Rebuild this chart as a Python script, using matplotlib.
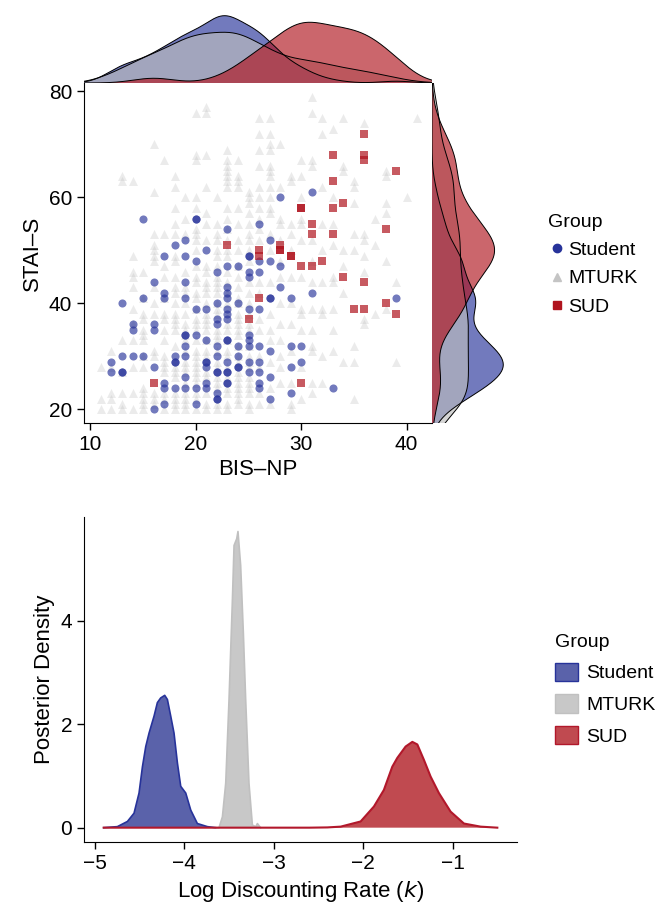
import numpy as np
import matplotlib
matplotlib.use('Agg')
import matplotlib.pyplot as plt
from matplotlib.lines import Line2D
from matplotlib.patches import Patch

plt.rcParams['font.family'] = ['Liberation Sans', 'DejaVu Sans']

# scatter data: (BIS-NP, STAI-S)
student_pts = [(15,56),(20,56),(20,56),(23,54),(26,55),(18,51),(19,52),(21,50),(17,49),(19,49),(25,49),(25,49),(28,60),
               (31,61),(27,52),(20,48),(22,46),(23,47),(24,47),(25,46),(25,45),(16,44),(19,44),(15,41),(17,42),(17,41),
               (19,41),(13,40),(20,39),(21,39),(22,40),(23,43),(23,42),(23,41),(24,40),(25,39),(23,39),(23,38),(23,37),
               (22,37),(22,36),(14,36),(14,35),(16,36),(16,35),(19,34),(19,34),(20,34),(21,33),(19,32),(22,32),(23,33),
               (23,33),(25,34),(25,33),(25,32),(24,32),(12,29),(12,27),(13,30),(13,27),(13,27),(14,30),(15,30),(16,28),
               (18,30),(18,29),(18,29),(19,30),(21,29),(21,29),(21,28),(22,30),(22,27),(22,27),(23,29),(23,27),(23,27),
               (23,25),(23,25),(24,30),(24,28),(24,28),(25,29),(25,27),(17,25),(17,24),(18,24),(19,26),(19,24),(20,24),
               (21,25),(21,24),(22,23),(22,22),(22,22),(17,21),(20,21),(16,20),(26,25),(26,24),(26,29),(26,48),(27,48),
               (28,47),(26,46),(28,43),(31,42),(27,41),(27,41),(29,41),(26,39),(39,41),(26,32),(27,31),(29,32),(30,32),
               (30,29),(29,28),(26,27),(27,26),(27,22),(29,23),(33,24)]

sud_pts = [(23,51),(26,50),(26,49),(36,72),(33,68),(36,68),(36,67),(39,65),(33,63),(34,59),(30,58),(30,58),(33,58),
           (31,55),(31,53),(33,53),(38,54),(28,51),(28,50),(28,50),(29,49),(29,49),(30,47),(31,47),(32,48),(34,45),
           (36,44),(38,40),(39,38),(35,39),(36,39),(26,41),(30,25),(16,25),(25,37)]

mturk_pts = [(11,28),(11,20),(11,22),
             (12,31),(12,23),(12,22),(12,20),(12,28),
             (13,64),(13,63),(13,23),(13,21),(13,20),(13,27),(13,33),
             (14,63),(14,49),(14,46),(14,45),(14,43),(14,39),(14,33),(14,28),(14,23),(14,20),(14,36),
             (15,46),(15,38),(15,37),(15,35),(15,34),(15,33),(15,28),(15,24),(15,23),(15,22),(15,21),(15,20),(15,41),(15,30),
             (16,70),(16,61),(16,53),(16,51),(16,50),(16,49),(16,48),(16,43),(16,31),(16,30),(16,23),(16,22),(16,21),(16,40),(16,38),
             (17,67),(17,53),(17,45),(17,38),(17,37),(17,35),(17,30),(17,29),(17,28),(17,27),(17,23),(17,22),(17,20),(17,33),(17,41),(17,47),
             (18,64),(18,62),(18,55),(18,53),(18,49),(18,48),(18,43),(18,42),(18,40),(18,38),(18,37),(18,36),(18,35),(18,28),
             (18,27),(18,26),(18,23),(18,22),(18,21),(18,20),(18,32),(18,45),(18,58),
             (19,60),(19,43),(19,38),(19,36),(19,35),(19,28),(19,27),(19,23),(19,22),(19,21),(19,20),(19,31),(19,33),(19,40),
             (19,46),(19,53),(19,56),(19,25),(19,29),(19,34),(19,42),
             (20,76),(20,68),(20,67),(20,60),(20,58),(20,54),(20,53),(20,52),(20,50),(20,42),(20,41),(20,37),(20,36),(20,30),
             (20,29),(20,28),(20,27),(20,26),(20,23),(20,22),(20,20),(20,45),(20,47),(20,33),(20,25),(20,31),(20,35),(20,39),(20,44),
             (21,77),(21,76),(21,68),(21,62),(21,57),(21,44),(21,43),(21,37),(21,36),(21,35),(21,27),(21,23),(21,21),(21,20),
             (21,31),(21,30),(21,47),(21,52),(21,55),(21,40),(21,26),(21,33),(21,38),(21,42),(21,46),
             (22,55),(22,53),(22,52),(22,50),(22,43),(22,42),(22,26),(22,25),(22,60),(22,38),(22,35),(22,33),(22,29),(22,21),
             (22,20),(22,47),(22,44),(22,24),(22,28),(22,31),(22,34),(22,40),(22,45),(22,49),(22,39),
             (23,69),(23,67),(23,66),(23,65),(23,64),(23,63),(23,62),(23,56),(23,52),(23,50),(23,49),(23,30),(23,28),(23,24),
             (23,23),(23,20),(23,44),(23,46),(23,35),(23,33),(23,58),(23,21),(23,26),(23,31),(23,36),(23,40),(23,42),(23,54),
             (24,67),(24,64),(24,63),(24,62),(24,55),(24,38),(24,37),(24,36),(24,35),(24,34),(24,27),(24,26),(24,25),(24,24),
             (24,23),(24,21),(24,43),(24,45),(24,50),(24,52),(24,58),(24,30),(24,22),(24,29),(24,32),(24,40),(24,47),(24,41),
             (25,61),(25,60),(25,59),(25,57),(25,55),(25,53),(25,52),(25,50),(25,36),(25,35),(25,26),(25,25),(25,23),(25,20),
             (25,48),(25,42),(25,40),(25,30),(25,29),(25,44),(25,21),(25,24),(25,28),(25,32),(25,38),
             (26,75),(26,72),(26,69),(26,66),(26,62),(26,60),(26,58),(26,44),(26,42),(26,37),(26,35),(26,30),(26,28),(26,23),
             (26,21),(26,52),(26,54),(26,56),
             (27,75),(27,72),(27,70),(27,69),(27,66),(27,65),(27,64),(27,62),(27,60),(27,58),(27,57),(27,21),(27,44),(27,38),
             (27,35),(27,33),(27,29),(27,24),(27,50),(27,53),
             (28,70),(28,62),(28,56),(28,25),(28,45),(28,40),(28,36),(28,33),(28,30),(28,28),(28,55),(28,48),(28,52),
             (29,64),(29,63),(29,55),(29,25),(29,21),(29,20),(29,45),(29,40),(29,36),(29,50),(29,53),(29,31),
             (30,67),(30,64),(30,60),(30,56),(30,55),(30,39),(30,38),(30,22),(30,45),(30,35),(30,52),(30,28),
             (31,79),(31,76),(31,67),(31,66),(31,52),(31,44),(31,39),(31,32),(31,31),(31,25),(31,23),(31,48),(31,35),
             (32,75),(32,72),(32,62),(32,55),(32,44),(32,39),(32,38),(32,25),(32,50),(32,30),
             (33,73),(33,60),(33,51),(33,45),(33,44),(33,39),(33,31),(33,55),(33,35),
             (34,75),(34,66),(34,65),(34,42),(34,29),(34,50),(34,47),
             (35,63),(35,62),(35,59),(35,53),(35,50),(35,32),(35,29),(35,22),
             (36,74),(36,53),(36,52),(36,49),(36,37),(36,36),(36,46),
             (37,56),(37,51),(37,38),
             (38,65),(38,64),(38,59),(38,57),(38,39),(38,48),
             (39,44),(39,29),(40,60),(41,75)]

groups = ['Student', 'MTURK', 'SUD']
colors = {'Student': '#27339a', 'MTURK': '#bdbdbd', 'SUD': '#b0141e'}

# posterior densities of log k
student_k = [-4.9, -4.747, -4.635, -4.561, -4.505, -4.467, -4.43, -4.393, -4.337, -4.3, -4.263, -4.218, -4.188,
             -4.151, -4.114, -4.076, -4.039, -3.983, -3.927, -3.853, -3.741, -3.65]
student_d = [0, 0.02, 0.12, 0.28, 0.67, 1.18, 1.57, 1.83, 2.16, 2.42, 2.51, 2.56, 2.48, 2.16, 1.83, 1.25, 0.8, 0.67,
             0.34, 0.08, 0.02, 0]
mturk_k = [-3.65, -3.611, -3.573, -3.536, -3.499, -3.461, -3.443, -3.413, -3.399, -3.369, -3.339, -3.313, -3.276,
           -3.238, -3.2, -3.182, -3.16, -3.145]
mturk_d = [0, 0, 0.21, 0.86, 2.48, 4.42, 5.46, 5.59, 5.73, 5.07, 3.77, 2.48, 0.86, 0.05, 0.02, 0.08, 0.03, 0]
sud_k = [-4.9, -2.6, -2.4, -2.251, -2.028, -1.879, -1.768, -1.674, -1.618, -1.525, -1.45, -1.394, -1.32, -1.246,
         -1.153, -1.022, -0.873, -0.687, -0.5]
sud_d = [0, 0, 0.005, 0.02, 0.12, 0.41, 0.73, 1.18, 1.35, 1.57, 1.66, 1.61, 1.31, 0.99, 0.67, 0.31, 0.08, 0.02, 0]


def kde(vals, grid, adjust=0.8):
    vals = np.asarray(vals, float)
    bw = adjust * vals.std(ddof=1) * len(vals) ** (-0.2)
    z = (grid[:, None] - vals[None, :]) / bw
    return np.exp(-0.5 * z ** 2).sum(axis=1) / (len(vals) * bw * np.sqrt(2 * np.pi))


fig = plt.figure(figsize=(6.57, 9.10), dpi=100)
ax = fig.add_axes([0.1279, 0.5352, 0.5296, 0.3736])
ax_top = fig.add_axes([0.1279, 0.9088, 0.5296, 0.0747])
ax_right = fig.add_axes([0.6575, 0.5352, 0.1096, 0.3736])

xlim = (9.4, 42.4)
ylim = (17.4, 81.6)

pts = {'Student': student_pts, 'MTURK': mturk_pts, 'SUD': sud_pts}
ax.scatter(*zip(*mturk_pts), marker='^', s=42, color=colors['MTURK'], alpha=0.3, linewidths=0)
ax.scatter(*zip(*student_pts), marker='o', s=34, color=colors['Student'], alpha=0.65, linewidths=0)
ax.scatter(*zip(*sud_pts), marker='s', s=34, color=colors['SUD'], alpha=0.7, linewidths=0)

ax.set_xlim(*xlim)
ax.set_ylim(*ylim)
ax.set_xticks([10, 20, 30, 40])
ax.set_yticks([20, 40, 60, 80])
ax.set_xlabel('BIS\u2013NP', fontsize=16)
ax.set_ylabel('STAI\u2013S', fontsize=16)
ax.tick_params(labelsize=15, length=5, width=1)
for s in ['top', 'right']:
    ax.spines[s].set_visible(False)

# marginal densities
gx = np.linspace(xlim[0], xlim[1], 500)
gy = np.linspace(ylim[0], ylim[1], 500)
top_max = 0
right_max = 0
for g in groups:
    xs = [p[0] for p in pts[g]]
    ys = [p[1] for p in pts[g]]
    dx = kde(xs, gx)
    dy = kde(ys, gy)
    top_max = max(top_max, dx.max())
    right_max = max(right_max, dy.max())
    ax_top.fill_between(gx, 0, dx, facecolor=colors[g], alpha=0.65, lw=0)
    ax_top.plot(gx, dx, color='black', lw=0.7)
    ax_right.fill_betweenx(gy, 0, dy, facecolor=colors[g], alpha=0.65, lw=0)
    ax_right.plot(dy, gy, color='black', lw=0.7)
ax_top.set_xlim(*xlim)
ax_top.set_ylim(0, top_max * 1.01)
ax_right.set_ylim(*ylim)
ax_right.set_xlim(0, right_max * 1.01)
for a in (ax_top, ax_right):
    a.axis('off')

handles = [Line2D([], [], marker='o', ls='', color=colors['Student'], markersize=6),
           Line2D([], [], marker='^', ls='', color='#c4c4c4', markersize=6),
           Line2D([], [], marker='s', ls='', color=colors['SUD'], markersize=6)]
leg = fig.legend(handles, groups, title='Group', loc='center left', bbox_to_anchor=(0.831, 0.709),
                 frameon=False, fontsize=14, title_fontsize=14, handlelength=0.9, handletextpad=0.15,
                 labelspacing=0.55, borderpad=0.1, borderaxespad=0)
leg._legend_box.align = 'left'

# posterior panel
ax2 = fig.add_axes([0.1279, 0.0742, 0.6590, 0.3580])
ax2.fill_between(student_k, 0, student_d, facecolor='#5a62aa', edgecolor='none')
ax2.plot(student_k, student_d, color='#27339a', lw=1.2)
ax2.fill_between(mturk_k, 0, mturk_d, facecolor='#c8c8c8', edgecolor='none')
ax2.plot(mturk_k, mturk_d, color='#c0c0c0', lw=1.2)
ax2.fill_between(sud_k, 0, sud_d, facecolor='#c04a50', edgecolor='none')
ax2.plot(sud_k, sud_d, color='#b2182b', lw=1.5)
ax2.set_xticks([-5, -4, -3, -2, -1])
ax2.set_yticks([0, 2, 4])
ax2.tick_params(labelsize=15, length=5, width=1)
ax2.set_xlabel('Log Discounting Rate ($\\mathit{k}$)', fontsize=16)
ax2.set_ylabel('Posterior Density', fontsize=16)
for s in ['top', 'right']:
    ax2.spines[s].set_visible(False)

phandles = [Patch(facecolor='#5a62aa', edgecolor='#27339a'),
            Patch(facecolor='#c8c8c8', edgecolor='#c0c0c0'),
            Patch(facecolor='#c04a50', edgecolor='#b2182b')]
leg2 = fig.legend(phandles, groups, title='Group', loc='center left', bbox_to_anchor=(0.842, 0.242),
                  frameon=False, fontsize=14, title_fontsize=14, handletextpad=0.4, labelspacing=0.6,
                  handlelength=1.2, handleheight=1.1, borderpad=0.1, borderaxespad=0)
leg2._legend_box.align = 'left'

fig.savefig('out.png', dpi=100)
